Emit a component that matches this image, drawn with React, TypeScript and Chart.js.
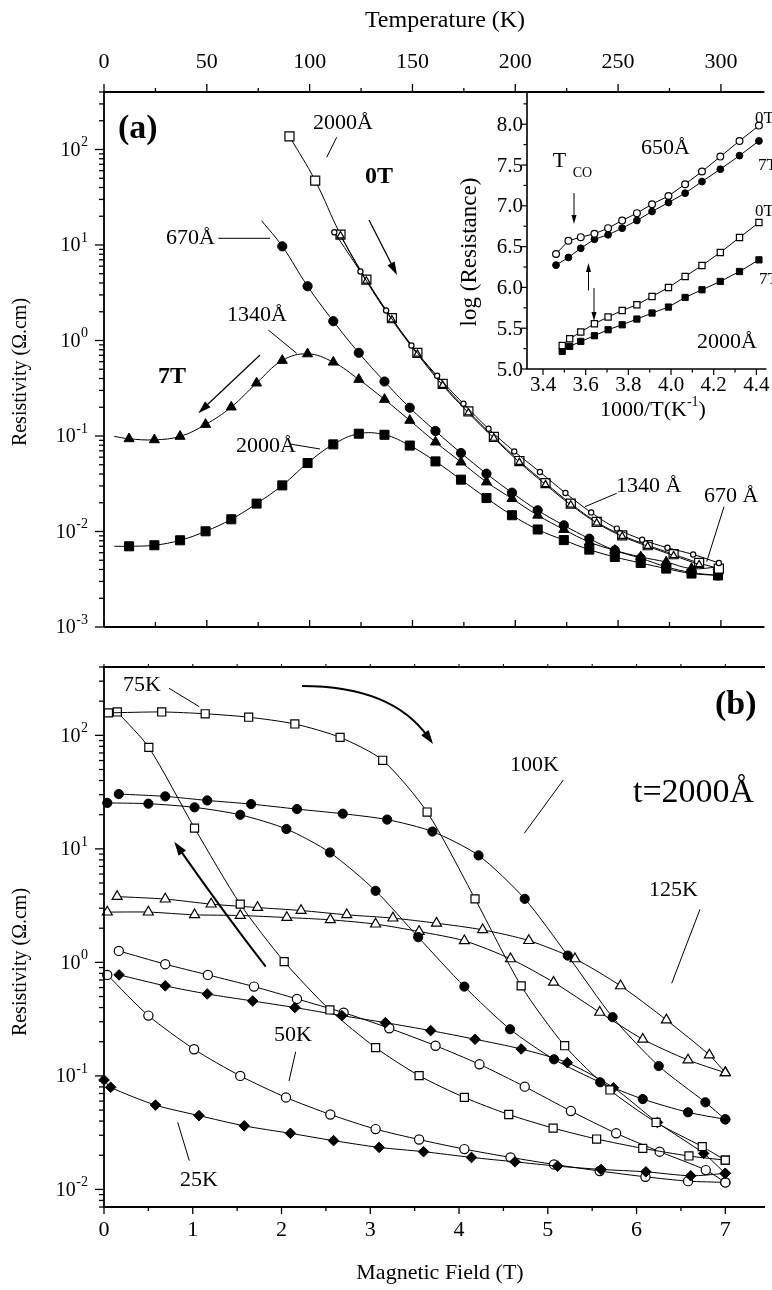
import React, { useEffect, useRef } from "react";
import { Chart, registerables } from "chart.js";
Chart.register(...registerables);

const W = 772;
const H = 1290;
const SERIF = '"Liberation Serif", "Times New Roman", Times, serif';

// ---------------- Panel (a): resistivity vs temperature ----------------
// 7T curves (first point is the unmarked start of the drawn line)
const temp7T = [5, 12.2, 24.5, 37, 49.4, 61.9, 74.2, 86.7, 99, 111.5, 123.9, 136.4, 148.7, 161.2, 173.6, 186, 198.4, 210.9, 223.6, 236, 248.4, 261, 273.4, 285.7, 298.6];
const rho2000_7T = [0.0070, 0.0070, 0.00718, 0.00809, 0.01005, 0.01343, 0.0196, 0.0304, 0.0521, 0.0817, 0.1057, 0.1030, 0.0794, 0.0542, 0.0349, 0.0224, 0.0148, 0.0105, 0.00813, 0.00646, 0.00541, 0.00468, 0.00409, 0.00363, 0.00347];
const rho1340_7T = [0.099, 0.0935, 0.0912, 0.0991, 0.1321, 0.2009, 0.358, 0.618, 0.724, 0.593, 0.391, 0.2415, 0.1456, 0.0863, 0.0533, 0.0330, 0.0221, 0.0148, 0.0105, 0.00776, 0.00635, 0.00541, 0.00479, 0.00409, 0.00425];
const temp670_7T = [76.6, 86.7, 99, 111.5, 123.9, 136.4, 148.7, 161.2, 173.6, 186, 198.4, 210.9, 223.6, 236, 248.4, 261, 273.4, 285.7, 298.6];
const rho670_7T = [18, 9.68, 3.70, 1.592, 0.743, 0.372, 0.1977, 0.1127, 0.0664, 0.0403, 0.0255, 0.01667, 0.01161, 0.00841, 0.00635, 0.00525, 0.00427, 0.00372, 0.00347];
// 0T curves
const temp2000_0T = [90.2, 102.7, 115, 127.6, 140, 152.4, 164.7, 177.2, 189.6, 202, 214.7, 227, 239.6, 252, 264.4, 277, 289.4, 299];
const rho2000_0T = [137, 47.2, 12.85, 4.345, 1.710, 0.743, 0.352, 0.1807, 0.0977, 0.0547, 0.0321, 0.0196, 0.01259, 0.00912, 0.00718, 0.00578, 0.00468, 0.00409];
const temp1340_0T = [115, 127.6, 140, 152.4, 164.7, 177.2, 189.6, 202, 214.7, 227, 239.6, 252, 264.4, 277, 289.4];
const rho1340_0T = [12.5, 4.2, 1.65, 0.72, 0.34, 0.175, 0.095, 0.053, 0.031, 0.019, 0.0123, 0.0089, 0.0070, 0.0056, 0.0045];
const temp670_0T = [112, 124.7, 137.2, 149.5, 162, 174.8, 187, 199.5, 212, 224.4, 236.9, 249.4, 261.7, 274, 286.5, 299];
const rho670_0T = [13.58, 5.27, 2.06, 0.887, 0.427, 0.218, 0.119, 0.069, 0.042, 0.0253, 0.01585, 0.01072, 0.00822, 0.00676, 0.00575, 0.00468];
const tempTicks = [0, 50, 100, 150, 200, 250, 300];

// ---------------- Inset: log(R) vs 1000/T ----------------
const invT650 = [3.461, 3.519, 3.577, 3.641, 3.705, 3.771, 3.84, 3.911, 3.988, 4.066, 4.145, 4.231, 4.321, 4.412];
const logR650_0T = [6.41, 6.571, 6.616, 6.657, 6.726, 6.82, 6.91, 7.02, 7.12, 7.265, 7.42, 7.603, 7.795, 7.983];
const logR650_7T = [6.273, 6.367, 6.48, 6.59, 6.645, 6.726, 6.82, 6.93, 7.04, 7.155, 7.297, 7.449, 7.615, 7.795];
const invT2000 = [3.49, 3.525, 3.577, 3.641, 3.705, 3.771, 3.84, 3.911, 3.988, 4.066, 4.145, 4.231, 4.321, 4.412];
const logR2000_0T = [5.289, 5.371, 5.453, 5.555, 5.637, 5.718, 5.787, 5.889, 5.999, 6.134, 6.269, 6.428, 6.611, 6.795];
const logR2000_7T = [5.216, 5.277, 5.338, 5.408, 5.481, 5.542, 5.612, 5.686, 5.759, 5.877, 5.971, 6.073, 6.195, 6.338];
const insetYTicks = [5.0, 5.5, 6.0, 6.5, 7.0, 7.5, 8.0];
const insetXTicks = [3.4, 3.6, 3.8, 4.0, 4.2, 4.4];

// ---------------- Panel (b): resistivity vs field, t=2000Å ----------------
const field75A = [0.05, 0.65, 1.14, 1.63, 2.15, 2.66, 3.14, 3.64, 4.18, 4.70, 5.19, 5.70, 6.22, 6.74, 7.0];
const rho75A = [157.8, 160.7, 154.9, 144.5, 125.9, 95.9, 60.3, 21.1, 3.63, 0.621, 0.1845, 0.0752, 0.0389, 0.0238, 0.0181];
const field75B = [0.15, 0.505, 1.02, 1.535, 2.03, 2.545, 3.06, 3.55, 4.06, 4.56, 5.06, 5.55, 6.07, 6.59, 7.0];
const rho75B = [160.7, 78.3, 15.24, 3.26, 1.016, 0.381, 0.1774, 0.1005, 0.0646, 0.0457, 0.0347, 0.0278, 0.0230, 0.0197, 0.0181];
const field100A = [0.167, 0.69, 1.163, 1.657, 2.174, 2.69, 3.19, 3.70, 4.22, 4.74, 5.225, 5.73, 6.25, 6.775, 7.0];
const rho100A = [30.4, 29.0, 26.7, 24.8, 22.4, 20.4, 18.1, 14.2, 8.75, 3.63, 1.148, 0.329, 0.1222, 0.0585, 0.0414];
const field100B = [0.037, 0.50, 1.02, 1.535, 2.055, 2.545, 3.06, 3.54, 4.06, 4.575, 5.07, 5.59, 6.07, 6.58, 7.0];
const rho100B = [25.4, 25.0, 23.2, 19.95, 14.96, 9.29, 4.27, 1.667, 0.612, 0.2576, 0.140, 0.0879, 0.0625, 0.0478, 0.0414];
const field125A = [0.148, 0.69, 1.207, 1.73, 2.22, 2.735, 3.255, 3.746, 4.266, 4.786, 5.306, 5.82, 6.336, 6.82, 7.0];
const rho125A = [3.80, 3.61, 3.26, 3.04, 2.864, 2.624, 2.455, 2.213, 1.936, 1.556, 1.074, 0.621, 0.311, 0.1528, 0.1067];
const field125B = [0.037, 0.5, 1.02, 1.535, 2.06, 2.55, 3.06, 3.55, 4.06, 4.58, 5.065, 5.585, 6.07, 6.58, 7.0];
const rho125B = [2.773, 2.773, 2.624, 2.588, 2.483, 2.371, 2.173, 1.871, 1.549, 1.074, 0.668, 0.363, 0.2104, 0.138, 0.1067];
const field50A = [0.167, 0.69, 1.17, 1.69, 2.174, 2.70, 3.214, 3.735, 4.23, 4.74, 5.26, 5.77, 6.26, 6.78, 7.0];
const rho50A = [1.262, 0.964, 0.776, 0.612, 0.4764, 0.3606, 0.263, 0.1845, 0.1265, 0.0804, 0.049, 0.0312, 0.0215, 0.0148, 0.01153];
const field50B = [0.037, 0.5, 1.015, 1.535, 2.05, 2.55, 3.06, 3.55, 4.06, 4.58, 5.07, 5.585, 6.1, 6.58, 7.0];
const rho50B = [0.776, 0.3396, 0.1718, 0.1, 0.0646, 0.0457, 0.0340, 0.0275, 0.02265, 0.01914, 0.0166, 0.01452, 0.01291, 0.01183, 0.01153];
const field25A = [0.17, 0.69, 1.163, 1.675, 2.15, 2.68, 3.17, 3.68, 4.18, 4.70, 5.22, 5.74, 6.235, 6.756, 7.0];
const rho25A = [0.776, 0.621, 0.527, 0.457, 0.400, 0.3396, 0.2944, 0.2506, 0.2104, 0.1726, 0.1309, 0.0787, 0.0389, 0.02075, 0.01384];
const field25B = [0, 0.075, 0.58, 1.07, 1.58, 2.10, 2.586, 3.10, 3.60, 4.14, 4.63, 5.11, 5.60, 6.105, 6.61, 7.0];
const rho25B = [0.092, 0.0794, 0.0553, 0.0447, 0.0363, 0.0312, 0.0269, 0.02344, 0.0215, 0.01914, 0.0175, 0.01603, 0.015, 0.01429, 0.01318, 0.01384];
const fieldTicks = [0, 1, 2, 3, 4, 5, 6, 7];

// ---------------- helpers ----------------
const f = (size: number, bold = false) => `${bold ? "bold " : ""}${size}px ${SERIF}`;

function txt(ctx: any, s: string, x: number, y: number, size: number, align: any = "left", bold = false) {
  ctx.font = f(size, bold);
  ctx.textAlign = align;
  ctx.textBaseline = "middle";
  ctx.fillText(s, x, y);
}

function rich(ctx: any, parts: [string, number, number][], cx: number, cy: number) {
  let total = 0;
  for (const [s, size] of parts) { ctx.font = f(size); total += ctx.measureText(s).width; }
  let x = cx - total / 2;
  ctx.textAlign = "left";
  ctx.textBaseline = "middle";
  for (const [s, size, dy] of parts) {
    ctx.font = f(size);
    ctx.fillText(s, x, cy + dy);
    x += ctx.measureText(s).width;
  }
}

function rotText(ctx: any, s: string, x: number, y: number, size: number) {
  ctx.save();
  ctx.translate(x, y);
  ctx.rotate(-Math.PI / 2);
  txt(ctx, s, 0, 0, size, "center");
  ctx.restore();
}

function seg(ctx: any, x0: number, y0: number, x1: number, y1: number, lw = 1) {
  ctx.lineWidth = lw;
  ctx.beginPath();
  ctx.moveTo(x0, y0);
  ctx.lineTo(x1, y1);
  ctx.stroke();
}

function head(ctx: any, x1: number, y1: number, a: number, len: number, hw: number) {
  const bx = x1 - len * Math.cos(a);
  const by = y1 - len * Math.sin(a);
  ctx.beginPath();
  ctx.moveTo(x1, y1);
  ctx.lineTo(bx + hw * Math.sin(a), by - hw * Math.cos(a));
  ctx.lineTo(bx - hw * Math.sin(a), by + hw * Math.cos(a));
  ctx.closePath();
  ctx.fill();
}

function arrow(ctx: any, x0: number, y0: number, x1: number, y1: number, len: number, hw: number, lw: number) {
  const a = Math.atan2(y1 - y0, x1 - x0);
  seg(ctx, x0, y0, x1 - len * 0.7 * Math.cos(a), y1 - len * 0.7 * Math.sin(a), lw);
  head(ctx, x1, y1, a, len, hw);
}

function curveArrow(ctx: any, x0: number, y0: number, cx: number, cy: number, x1: number, y1: number, len: number, hw: number, lw: number) {
  const a = Math.atan2(y1 - cy, x1 - cx);
  ctx.lineWidth = lw;
  ctx.beginPath();
  ctx.moveTo(x0, y0);
  ctx.quadraticCurveTo(cx, cy, x1 - len * 0.6 * Math.cos(a), y1 - len * 0.6 * Math.sin(a));
  ctx.stroke();
  head(ctx, x1, y1, a, len, hw);
}

function logTicks(min: number, max: number) {
  const out: { v: number; major: boolean; e: number }[] = [];
  for (let e = Math.floor(Math.log10(min)) - 1; e <= Math.ceil(Math.log10(max)); e++) {
    for (let m = 1; m < 10; m++) {
      const v = m * Math.pow(10, e);
      if (v >= min * 0.999 && v <= max * 1.001) out.push({ v, major: m === 1, e });
    }
  }
  return out;
}

function powLabel(ctx: any, e: number, xRight: number, y: number) {
  ctx.font = f(20);
  const wb = ctx.measureText("10").width;
  const s = String(e);
  ctx.font = f(14);
  const ws = ctx.measureText(s).width;
  const x0 = xRight - ws - wb - 0.5;
  ctx.textAlign = "left";
  ctx.textBaseline = "middle";
  ctx.font = f(20);
  ctx.fillText("10", x0, y + 1);
  ctx.font = f(14);
  ctx.fillText(s, x0 + wb + 0.5, y - 7);
}

function drawLogLeftAxis(ctx: any, ys: any, left: number, min: number, max: number) {
  for (const t of logTicks(min, max)) {
    const py = ys.getPixelForValue(t.v);
    seg(ctx, left, py, left - (t.major ? 9 : 5), py, 1.3);
    if (t.major) powLabel(ctx, t.e, 88, py);
  }
}

function mk(xs: number[], ys: number[], style: string, r: any, filled: boolean, tension: number, extra: any = {}) {
  return {
    data: xs.map((x, i) => ({ x, y: ys[i] })),
    borderColor: "#000",
    borderWidth: 1,
    pointStyle: style,
    pointRadius: r,
    pointBackgroundColor: filled ? "#000" : "#fff",
    pointBorderColor: "#000",
    pointBorderWidth: filled ? 1 : 1.2,
    pointHoverRadius: r,
    tension,
    clip: false,
    fill: false,
    ...extra,
  };
}

function lead(n: number, r: number) {
  return Array.from({ length: n }, (_, i) => (i === 0 ? 0 : r));
}

const baseOptions = (padding: any, x: any, y: any) => ({
  responsive: false,
  animation: false,
  devicePixelRatio: 1,
  events: [],
  layout: { padding },
  plugins: { legend: { display: false }, tooltip: { enabled: false }, title: { display: false } },
  scales: { x: { display: false, ...x }, y: { display: false, ...y } },
});

// ---------------- plugins ----------------
const plugA = {
  id: "axA",
  afterDraw(chart: any) {
    const { ctx, chartArea: ca } = chart;
    const xs = chart.scales.x;
    const ys = chart.scales.y;
    ctx.save();
    ctx.strokeStyle = "#000";
    ctx.fillStyle = "#000";
    // frame
    ctx.lineWidth = 1.8;
    ctx.beginPath();
    ctx.moveTo(ca.left, ca.bottom);
    ctx.lineTo(ca.left, ca.top);
    ctx.lineTo(ca.right, ca.top);
    ctx.moveTo(ca.left, ca.bottom);
    ctx.lineTo(ca.right, ca.bottom);
    ctx.stroke();
    // temperature ticks
    for (let t = 0; t <= 325; t += 25) {
      const px = xs.getPixelForValue(t);
      if (px > ca.right + 0.5) break;
      const major = t % 50 === 0;
      seg(ctx, px, ca.top, px, ca.top - (major ? 8 : 4), 1.3);
      seg(ctx, px, ca.bottom, px, ca.bottom - (major ? 7 : 5), 1.3);
    }
    for (const t of tempTicks) txt(ctx, String(t), xs.getPixelForValue(t), 62, 22, "center");
    txt(ctx, "Temperature (K)", 445, 21, 24, "center");
    drawLogLeftAxis(ctx, ys, ca.left, 0.001, 400);
    rotText(ctx, "Resistivity (Ω.cm)", 21, 372, 20);
    // annotations
    ctx.lineWidth = 1;
    txt(ctx, "(a)", 118, 129, 34, "left", true);
    txt(ctx, "2000Å", 313, 123, 22);
    seg(ctx, 336.7, 137.3, 326.7, 157.3, 1);
    txt(ctx, "0T", 365, 177, 24, "left", true);
    arrow(ctx, 369, 220, 397, 275, 13, 4, 1.2);
    txt(ctx, "670Å", 166, 238, 22);
    seg(ctx, 218.3, 238.3, 270, 238.3, 1);
    txt(ctx, "1340Å", 227, 315, 22);
    seg(ctx, 268.3, 330, 296.7, 353.3, 1);
    txt(ctx, "7T", 158, 377, 24, "left", true);
    arrow(ctx, 260, 355, 198.3, 413.3, 13, 4, 1.2);
    txt(ctx, "2000Å", 236, 446.7, 22);
    seg(ctx, 290, 444, 320, 449, 1);
    txt(ctx, "1340 Å", 616, 486, 22);
    seg(ctx, 616.7, 493.3, 585, 506.7, 1);
    txt(ctx, "670 Å", 704, 496.7, 22);
    seg(ctx, 724, 506.7, 706.7, 561.7, 1);
    ctx.restore();
  },
};

const plugInset = {
  id: "axInset",
  afterDraw(chart: any) {
    const { ctx, chartArea: ca } = chart;
    const xs = chart.scales.x;
    const ys = chart.scales.y;
    ctx.save();
    ctx.strokeStyle = "#000";
    ctx.fillStyle = "#000";
    ctx.lineWidth = 1.6;
    ctx.beginPath();
    ctx.moveTo(ca.left, ca.top);
    ctx.lineTo(ca.left, ca.bottom);
    ctx.lineTo(ca.right, ca.bottom);
    ctx.stroke();
    for (let k = 0; k <= 13; k++) {
      const v = 5 + k * 0.25;
      const py = ys.getPixelForValue(v);
      if (py < ca.top - 0.5) break;
      seg(ctx, ca.left, py, ca.left - (k % 2 === 0 ? 6 : 3.5), py, 1.2);
    }
    for (const v of insetYTicks) txt(ctx, v.toFixed(1), 523, ys.getPixelForValue(v) + 1, 21, "right");
    for (let k = 0; k <= 11; k++) {
      const v = 3.4 + k * 0.1;
      const px = xs.getPixelForValue(v);
      if (px > ca.right + 0.5) break;
      seg(ctx, px, ca.bottom, px, ca.bottom + (k % 2 === 0 ? 6 : 3.5), 1.2);
    }
    for (const v of insetXTicks) txt(ctx, v.toFixed(1), xs.getPixelForValue(v), 385, 21, "center");
    rich(ctx, [["1000/T(K", 22, 0], ["-1", 14, -8], [")", 22, 0]], 653, 410);
    rotText(ctx, "log (Resistance)", 470, 252, 23);
    // annotations
    txt(ctx, "650Å", 641, 148, 22);
    txt(ctx, "T", 552.7, 161.7, 22);
    txt(ctx, "CO", 572.7, 173, 14);
    arrow(ctx, 574, 193, 574, 224, 9, 2.5, 1);
    arrow(ctx, 588.5, 290.5, 588.5, 263, 9, 2.5, 1);
    arrow(ctx, 594, 288, 594, 321, 9, 2.5, 1);
    txt(ctx, "0T", 755, 119, 17);
    txt(ctx, "7T", 758, 166, 17);
    txt(ctx, "0T", 755, 211.7, 17);
    txt(ctx, "7T", 759, 280, 17);
    txt(ctx, "2000Å", 697, 342, 22);
    ctx.restore();
  },
};

const plugB = {
  id: "axB",
  afterDraw(chart: any) {
    const { ctx, chartArea: ca } = chart;
    const xs = chart.scales.x;
    const ys = chart.scales.y;
    ctx.save();
    ctx.strokeStyle = "#000";
    ctx.fillStyle = "#000";
    ctx.lineWidth = 1.8;
    ctx.beginPath();
    ctx.moveTo(ca.right, ca.top);
    ctx.lineTo(ca.left, ca.top);
    ctx.lineTo(ca.left, ca.bottom);
    ctx.lineTo(ca.right, ca.bottom);
    ctx.stroke();
    for (let k = 0; k <= 15; k++) {
      const v = k * 0.5;
      const px = xs.getPixelForValue(v);
      if (px > ca.right + 0.5) break;
      seg(ctx, px, ca.bottom, px, ca.bottom + (k % 2 === 0 ? 7 : 4), 1.3);
      seg(ctx, px, ca.top, px, ca.top - 3, 1.1);
    }
    for (const v of fieldTicks) txt(ctx, String(v), xs.getPixelForValue(v), 1230, 22, "center");
    txt(ctx, "Magnetic Field (T)", 440, 1273, 22, "center");
    drawLogLeftAxis(ctx, ys, ca.left, 0.007, 400);
    rotText(ctx, "Resistivity (Ω.cm)", 21, 962, 20);
    // annotations
    txt(ctx, "75K", 123, 685, 22);
    seg(ctx, 169, 688.3, 199.3, 706.7, 1);
    curveArrow(ctx, 302, 686, 392, 686, 433, 744, 14, 4.5, 2);
    txt(ctx, "(b)", 715, 705, 34, "left", true);
    txt(ctx, "100K", 510, 765, 22);
    seg(ctx, 563.3, 780, 524.3, 833.3, 1);
    txt(ctx, "t=2000Å", 633, 793, 34);
    txt(ctx, "125K", 649, 890, 22);
    seg(ctx, 700, 909.3, 671.7, 983.3, 1);
    txt(ctx, "50K", 274, 1035, 22);
    seg(ctx, 295.7, 1051.7, 289, 1081, 1);
    txt(ctx, "25K", 180, 1180, 22);
    seg(ctx, 177.7, 1122.3, 189.3, 1160.7, 1);
    curveArrow(ctx, 265.7, 966.7, 222, 910, 174.3, 841.7, 14, 4.5, 2);
    ctx.restore();
  },
};

export default function App() {
  const refA = useRef<HTMLCanvasElement>(null);
  const refI = useRef<HTMLCanvasElement>(null);
  const refB = useRef<HTMLCanvasElement>(null);

  useEffect(() => {
    const tA = 0.4;
    const chartA = new Chart(refA.current as any, {
      type: "line",
      data: {
        datasets: [
          mk(temp670_0T, rho670_0T, "circle", 2.6, false, tA),
          mk(temp1340_0T, rho1340_0T, "triangle", 4.2, false, tA),
          mk(temp2000_0T, rho2000_0T, "rect", 6.4, false, tA),
          mk(temp670_7T, rho670_7T, "circle", lead(temp670_7T.length, 4.6), true, tA),
          mk(temp7T, rho1340_7T, "triangle", lead(temp7T.length, 5.8), true, tA),
          mk(temp7T, rho2000_7T, "rect", lead(temp7T.length, 6.4), true, tA),
        ] as any,
      },
      options: baseOptions(
        { left: 104, top: 92, right: 0, bottom: H - 627 },
        { type: "linear", min: 0, max: 321.15 },
        { type: "logarithmic", min: 0.001, max: 400 }
      ) as any,
      plugins: [plugA],
    });

    const chartI = new Chart(refI.current as any, {
      type: "line",
      data: {
        datasets: [
          mk(invT650, logR650_0T, "circle", 3.4, false, 0),
          mk(invT650, logR650_7T, "circle", 3.4, true, 0),
          mk(invT2000, logR2000_0T, "rect", 4.4, false, 0),
          mk(invT2000, logR2000_7T, "rect", 4.4, true, 0),
        ] as any,
      },
      options: baseOptions(
        { left: 527, top: 92, right: 0, bottom: H - 369 },
        { type: "linear", min: 3.325, max: 4.447 },
        { type: "linear", min: 5.0, max: 8.395 }
      ) as any,
      plugins: [plugInset],
    });

    const tB = 0.25;
    const chartB = new Chart(refB.current as any, {
      type: "line",
      data: {
        datasets: [
          mk(field75A, rho75A, "rect", 5.7, false, tB),
          mk(field75B, rho75B, "rect", 5.7, false, tB),
          mk(field25A, rho25A, "rectRot", 5.3, true, tB),
          mk(field25B, rho25B, "rectRot", 5.3, true, tB),
          mk(field100A, rho100A, "circle", 4.6, true, tB),
          mk(field100B, rho100B, "circle", 4.6, true, tB),
          mk(field125A, rho125A, "triangle", 5.8, false, tB),
          mk(field125B, rho125B, "triangle", 5.8, false, tB),
          mk(field50A, rho50A, "circle", 4.6, false, tB),
          mk(field50B, rho50B, "circle", 4.6, false, tB),
        ] as any,
      },
      options: baseOptions(
        { left: 104, top: 667, right: 0, bottom: H - 1207 },
        { type: "linear", min: 0, max: 7.447 },
        { type: "logarithmic", min: 0.007, max: 400 }
      ) as any,
      plugins: [plugB],
    });

    return () => {
      chartA.destroy();
      chartI.destroy();
      chartB.destroy();
    };
  }, []);

  const cs: React.CSSProperties = { position: "absolute", left: 0, top: 0, width: W, height: H };
  return (
    <div style={{ position: "absolute", left: 0, top: 0, width: W, height: H, background: "#fff", overflow: "hidden" }}>
      <canvas ref={refA} width={W} height={H} style={cs} />
      <canvas ref={refB} width={W} height={H} style={cs} />
      <canvas ref={refI} width={W} height={H} style={cs} />
    </div>
  );
}
